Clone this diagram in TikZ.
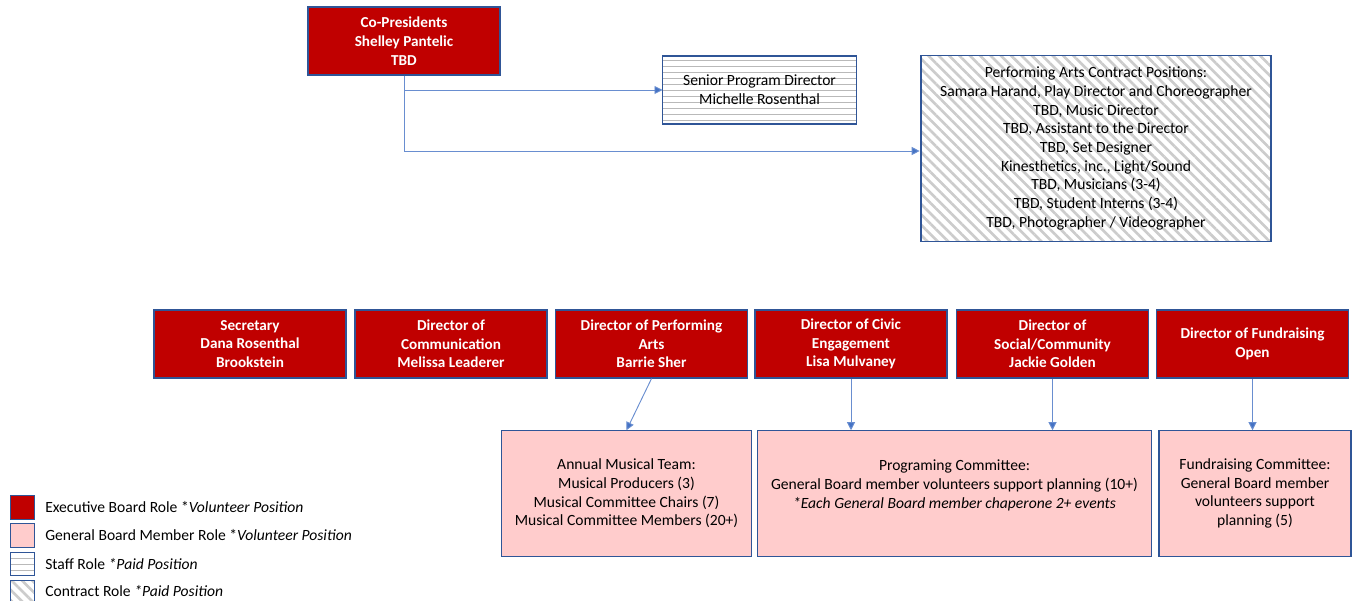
\documentclass[tikz,border=0pt]{standalone}
\usepackage{fontspec}
\setmainfont{Carlito}
\usepackage{xcolor}
\usepackage{tikz}
\usetikzlibrary{arrows.meta,calc,patterns.meta,positioning}
\definecolor{execred}{HTML}{C00000}
\definecolor{genpink}{HTML}{FFCCCC}
\definecolor{edgeblue}{HTML}{2F5597}
\definecolor{linkblue}{HTML}{4472C4}
\tikzset{
  role/.style={draw=edgeblue, line width=0.9pt, align=center, inner sep=2pt,
    font=\fontsize{11.7}{14}\selectfont},
  execrole/.style={role, fill=execred, text=white, font=\fontsize{11.4}{14}\selectfont\bfseries,
    minimum width=144pt, minimum height=51pt},
  genrole/.style={role, fill=genpink, minimum height=94pt},
  staffrole/.style={role, pattern={Lines[angle=0,distance=4.5pt,line width=0.5pt]}, pattern color=gray!55},
  contractrole/.style={role, pattern={Lines[angle=-45,distance=5.5pt,line width=2pt]}, pattern color=gray!40},
  link/.style={draw=linkblue!80, line width=0.7pt, -{Triangle[width=6pt,length=6pt,fill=linkblue]}},
  keybox/.style={draw=edgeblue, line width=0.9pt, minimum width=18.5pt, minimum height=17.5pt, inner sep=0pt},
  keytext/.style={anchor=west, inner sep=0pt, font=\fontsize{11.7}{14}\selectfont}
}
\begin{document}
\begin{tikzpicture}[x=0.75pt,y=-0.75pt]
  \useasboundingbox (0,0) rectangle (1357,600);
  \node[execrole] (copres) at (404,41) {Co-Presidents\\Shelley Pantelic\\TBD};
  \node[staffrole, minimum width=145pt, minimum height=51pt] (senior) at (759.5,90) {Senior Program Director\\Michelle Rosenthal};
  \node[contractrole, minimum width=262.5pt, minimum height=139pt] (contract) at (1096,148.5)
    {Performing Arts Contract Positions:\\Samara Harand, Play Director and Choreographer\\TBD, Music Director\\TBD, Assistant to the Director\\TBD, Set Designer\\Kinesthetics, inc., Light/Sound\\TBD, Musicians (3-4)\\TBD, Student Interns (3-4)\\TBD, Photographer / Videographer};

  \node[execrole] (secretary) at (250,344) {Secretary\\Dana Rosenthal\\Brookstein};
  \node[execrole] (communication) at (451,344) {Director of\\Communication\\Melissa Leaderer};
  \node[execrole] (performing) at (651.5,344) {Director of Performing\\Arts\\Barrie Sher};
  \node[execrole] (civic) at (851,344) {Director of Civic\\Engagement\\Lisa Mulvaney};
  \node[execrole] (social) at (1052.5,344) {Director of\\Social/Community\\Jackie Golden};
  \node[execrole] (fundraising) at (1252.5,344) {Director of Fundraising\\Open};

  \node[genrole, minimum width=188pt] (musical) at (626.5,493.5) {Annual Musical Team:\\Musical Producers (3)\\Musical Committee Chairs (7)\\Musical Committee Members (20+)};
  \node[genrole, minimum width=295pt] (programing) at (954.5,493.5) {Programing Committee:\\General Board member volunteers support planning (10+)\\\textit{*Each General Board member chaperone 2+ events}\\~};
  \node[genrole, minimum width=144pt] (fundcommittee) at (1255,493.5) {Fundraising Committee:\\General Board member\\volunteers support\\planning (5)};

  \draw[link] (copres.south) |- (senior.west);
  \draw[link] (copres.south) |- ($(contract.west)+(0,2.5)$);
  \draw[link] (performing.south) -- (musical.north);
  \draw[link] (civic.south) -- (civic.south |- programing.north);
  \draw[link] (social.south) -- (social.south |- programing.north);
  \draw[link] (fundraising.south) -- (fundraising.south |- fundcommittee.north);

  \node[keybox, fill=execred] (keyexec) at (22.5,507.5) {};
  \node[keybox, fill=genpink] (keygen) at (22.5,535.5) {};
  \node[keybox, pattern={Lines[angle=0,distance=4.5pt,line width=0.5pt]}, pattern color=gray!55] (keystaff) at (22.5,564) {};
  \node[keybox, pattern={Lines[angle=-45,distance=5.5pt,line width=2pt]}, pattern color=gray!40] (keycontract) at (22.5,592) {};
  \node[keytext] at (45,507) {Executive Board Role *\textit{Volunteer Position}};
  \node[keytext] at (45,535) {General Board Member Role *\textit{Volunteer Position}};
  \node[keytext] at (45,564) {Staff Role \textit{*Paid Position}};
  \node[keytext] at (45,591) {Contract Role \textit{*Paid Position}};
\end{tikzpicture}
\end{document}
